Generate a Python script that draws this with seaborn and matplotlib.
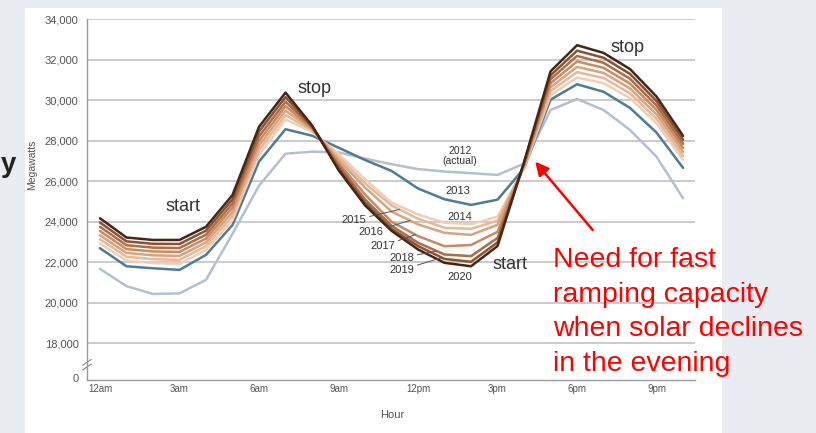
import numpy as np
import pandas as pd
import matplotlib
matplotlib.use("Agg")
import matplotlib.pyplot as plt
import matplotlib.patches as mpatches
import seaborn as sns

# ── Data (net load, MW) ──────────────────────────────────────────────────────
HOURS = list(range(23))
YEARS = ["2012", "2013", "2014", "2015", "2016", "2017", "2018", "2019", "2020"]

MW_2012 = [21670, 20820, 20430, 20460, 21130, 23400, 25780, 27360, 27460, 27430, 27120, 26840,
           26600, 26480, 26400, 26310, 26870, 29520, 30060, 29520, 28530, 27210, 25160]
MW_2013 = [22690, 21800, 21700, 21620, 22360, 23840, 26970, 28570, 28250, 27660, 27050, 26510,
           25640, 25110, 24830, 25090, 26640, 30030, 30790, 30420, 29620, 28400, 26660]
MW_2014 = [22920, 22080, 21960, 21920, 22600, 24080, 27300, 29050, 28450, 27350, 26100, 24950,
           24360, 23950, 23880, 24250, 26650, 30250, 31120, 30850, 30100, 28860, 27050]
MW_2015 = [23130, 22270, 22150, 22120, 22790, 24290, 27530, 29270, 28520, 27200, 25900, 24800,
           24150, 23700, 23650, 24050, 26700, 30450, 31390, 31100, 30340, 29080, 27250]
MW_2016 = [23330, 22460, 22340, 22310, 22980, 24490, 27760, 29490, 28580, 27050, 25690, 24500,
           23870, 23450, 23350, 23850, 26750, 30640, 31650, 31350, 30580, 29300, 27450]
MW_2017 = [23540, 22650, 22530, 22510, 23170, 24700, 27990, 29710, 28630, 26900, 25350, 24000,
           23290, 22790, 22850, 23500, 26800, 30840, 31920, 31600, 30820, 29520, 27650]
MW_2018 = [23750, 22840, 22720, 22700, 23360, 24900, 28220, 29930, 28680, 26780, 25100, 23800,
           22960, 22380, 22300, 23200, 26850, 31040, 32190, 31850, 31060, 29740, 27850]
MW_2019 = [23960, 23030, 22910, 22900, 23560, 25110, 28460, 30160, 28720, 26650, 24940, 23650,
           22800, 22160, 22020, 22980, 26900, 31230, 32450, 32100, 31300, 29960, 28050]
MW_2020 = [24170, 23220, 23100, 23100, 23750, 25320, 28690, 30380, 28760, 26550, 24810, 23550,
           22630, 21970, 21800, 22800, 26950, 31430, 32720, 32340, 31540, 30180, 28240]

SERIES = [MW_2012, MW_2013, MW_2014, MW_2015, MW_2016, MW_2017, MW_2018, MW_2019, MW_2020]
COLORS = ["#b4c0cd", "#4e7c97", "#f0cfb6", "#e6b999", "#daa27e", "#c98962", "#ae6d46",
          "#8a5132", "#442615"]

Y_TICKS = [18000, 20000, 22000, 24000, 26000, 28000, 30000, 32000, 34000]
Y_ZERO = 16300          # where the broken-axis "0" label sits
X_TICKS = [0, 3, 6, 9, 12, 15, 18, 21]
X_LABELS = ["12am", "3am", "6am", "9am", "12pm", "3pm", "6pm", "9pm"]

# label: (text x-hour, text y, leader end hour)
LEADERS = {
    "2015": (10.05, 24080, 11.3),
    "2016": (10.68, 23490, 11.7),
    "2017": (11.13, 22800, 11.9),
    "2018": (11.85, 22210, 12.7),
    "2019": (11.85, 21620, 12.9),
}

df = pd.DataFrame({
    "hour": HOURS * len(YEARS),
    "mw": [v for s in SERIES for v in s],
    "year": [y for y in YEARS for _ in HOURS],
})

sns.set_style("white")
plt.rcParams["font.family"] = ["Liberation Sans", "DejaVu Sans"]
NARROW = ["Liberation Sans Narrow", "Liberation Sans", "DejaVu Sans"]

fig = plt.figure(figsize=(8.16, 4.33), dpi=100, facecolor="#e9ecf1")
fig.patches.append(mpatches.Rectangle((25 / 816, 0), (722 - 25) / 816, 1 - 8 / 433,
                                      transform=fig.transFigure, facecolor="white",
                                      edgecolor="none", zorder=-5))
ax = fig.add_axes([87 / 816, 1 - 380 / 433, (695 - 87) / 816, (380 - 19.3) / 433])
ax.set_zorder(2)
ax.set_facecolor("none")

for t in Y_TICKS:
    ax.axhline(t, color="#bdbdbd", lw=1.1, zorder=0)

sns.lineplot(data=df, x="hour", y="mw", hue="year", hue_order=YEARS,
             palette=dict(zip(YEARS, COLORS)), linewidth=1.8, legend=False, ax=ax)

ax.set_xlim(-0.49, 22.45)
ax.set_ylim(16181, 34000)
ax.set_yticks([Y_ZERO] + Y_TICKS)
ax.set_yticklabels(["0"] + [f"{t:,}" for t in Y_TICKS], fontsize=8, color="#555")
ax.set_xticks(X_TICKS)
ax.set_xticklabels(X_LABELS, fontsize=7, color="#555", family=NARROW)
ax.set_xticks(np.arange(0.5, 22.5, 1), minor=True)
ax.tick_params(axis="y", length=0, pad=6)
ax.tick_params(axis="x", which="major", length=0, pad=3)
ax.tick_params(axis="x", which="minor", length=3, direction="inout", color="#999")
ax.set_xlabel("")
ax.set_ylabel("")
for s in ["top", "right"]:
    ax.spines[s].set_visible(False)
for s in ["left", "bottom"]:
    ax.spines[s].set_color("#999")
    ax.spines[s].set_linewidth(1)

# axis break marks
for dy in (0.0, 0.013):
    ax.plot([-0.007, 0.007], [0.028 + dy, 0.044 + dy], transform=ax.transAxes,
            color="#888", lw=0.8, clip_on=False)

fig.text(32 / 816, 1 - 165 / 433, "Megawatts", rotation=90, ha="center", va="center",
         fontsize=7.5, color="#555", family=NARROW)
fig.text(392 / 816, 1 - 415 / 433, "Hour", ha="center", va="center",
         fontsize=8, color="#555", family=NARROW)

# curve annotations
lab = dict(family=NARROW, color="#333", ha="center", va="center")
ax.text(3.13, 24740, "start", fontsize=13, **lab)
ax.text(15.47, 21870, "start", fontsize=13, **lab)
ax.text(8.11, 30600, "stop", fontsize=13, **lab)
ax.text(19.9, 32600, "stop", fontsize=13, **lab)
ax.text(13.58, 27250, "2012\n(actual)", fontsize=7.5, linespacing=1.1, **lab)
ax.text(13.5, 25520, "2013", fontsize=8, **lab)
ax.text(13.58, 24250, "2014", fontsize=8, **lab)
ax.text(13.58, 21270, "2020", fontsize=8, **lab)
for year, (tx, ty, hx) in LEADERS.items():
    series = SERIES[YEARS.index(year)]
    ax.annotate(year, xy=(hx, np.interp(hx, HOURS, series)), xytext=(tx, ty),
                fontsize=8, family=NARROW, color="#333", ha="right", va="center",
                arrowprops=dict(arrowstyle="-", color="#555", lw=0.7, shrinkA=0, shrinkB=0))

# red call-out
ax.annotate("", xy=(16.42, 26965), xytext=(18.59, 23590),
            arrowprops=dict(arrowstyle="-|>", color="#ff0000", lw=1.8, mutation_scale=20,
                            shrinkA=0, shrinkB=0))
fig.text(552.7 / 816, 1 - 247 / 433,
         "Need for fast\nramping capacity\nwhen solar declines\nin the evening",
         ha="left", va="top", fontsize=20.5, color="#ff0000", linespacing=1.43, zorder=5)

# slide text fragment at the left edge
fig.text(1 / 816, 1 - 172 / 433, "y", fontsize=20, fontweight="bold", color="#222",
         ha="left", va="baseline")

fig.savefig("out.png", dpi=100, facecolor=fig.get_facecolor())
